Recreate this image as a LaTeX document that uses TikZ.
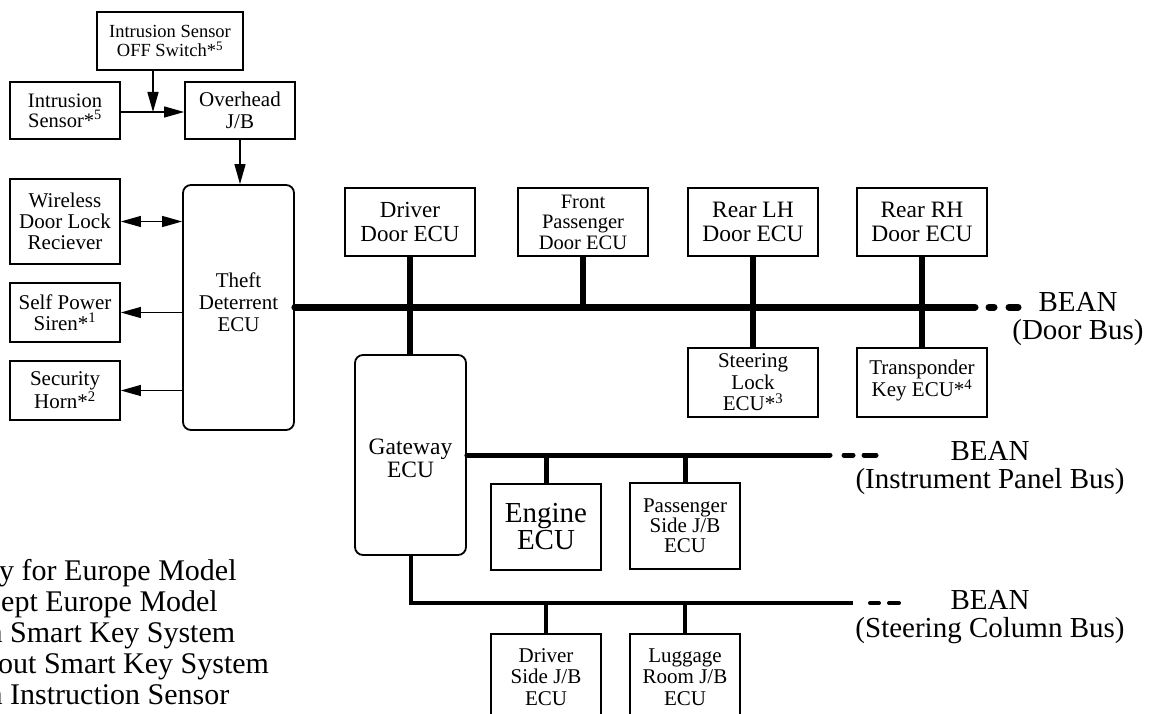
\documentclass[tikz,border=0pt]{standalone}
\usepackage{fontspec}
\setmainfont{Liberation Serif}
\usetikzlibrary{arrows.meta,calc}
\newcommand{\fsz}[2]{\fontsize{#1pt}{#2pt}\selectfont}
\begin{document}
\begin{tikzpicture}[x=1pt,y=-1pt,
  box/.style={draw, line width=1.8pt, inner sep=0pt, align=center},
  ecu/.style={box, rounded corners=8pt},
  arr/.style={line width=1.3pt, -{Triangle[length=20pt,width=11pt]}},
  darr/.style={line width=1.3pt, {Triangle[length=20pt,width=11pt]}-{Triangle[length=20pt,width=11pt]}},
  busA/.style={line width=7pt},
  dropA/.style={line width=6pt},
  busB/.style={line width=5pt},
  busC/.style={line width=4pt},
  dashseg/.style={line cap=round},
  buslabel/.style={align=center, font=\fsz{29}{28}},
  legend/.style={anchor=base west, font=\fsz{30}{31}, inner sep=0pt}
]
\useasboundingbox (0,0) rectangle (1149,714);
\begin{scope}
\clip (0,0) rectangle (1149,714);
% left cluster
\node[box, minimum width=146pt, minimum height=58pt, font=\fsz{18.5}{18.5}] (offsw) at (170,41) {Intrusion Sensor\\OFF Switch*\textsuperscript{5}};
\node[box, minimum width=110pt, minimum height=57pt, font=\fsz{20.5}{20}] (intr) at (65,110.5) {Intrusion\\Sensor*\textsuperscript{5}};
\node[box, minimum width=110pt, minimum height=57pt, font=\fsz{21}{22}] (ovh) at (240,110.5) {Overhead\\J/B};
\node[ecu, minimum width=111pt, minimum height=245pt,
  label={[align=center, font=\fsz{21}{22}, yshift=5.5pt]center:{Theft\\Deterrent\\ECU}}] (theft) at (238.5,307.5) {};
\node[box, minimum width=110pt, minimum height=85pt, font=\fsz{21}{21}] (wire) at (65,221.5) {Wireless\\Door Lock\\Reciever};
\node[box, minimum width=110pt, minimum height=59pt, font=\fsz{21}{21}] (siren) at (65,312.5) {Self Power\\Siren*\textsuperscript{1}};
\node[box, minimum width=110pt, minimum height=59pt, font=\fsz{21}{21}] (horn) at (65,390.5) {Security\\Horn*\textsuperscript{2}};
\coordinate (j) at (153,112);
\draw[line width=1.3pt] (intr.east |- j) -- (j);
\draw[arr] (j) -- (ovh.west |- j);
\draw[arr] (offsw.south -| j) -- (j);
\draw[arr] (ovh.south) -- (ovh.south |- theft.north);
\draw[darr] (wire.east) -- (wire.east -| theft.west);
\draw[arr] (theft.west |- siren.east) -- (siren.east);
\draw[arr] (theft.west |- horn.east) -- (horn.east);
% door ECUs
\node[box, minimum width=130pt, minimum height=68pt, font=\fsz{23}{24}] (drv) at (410,222) {Driver\\Door ECU};
\node[box, minimum width=130pt, minimum height=68pt, font=\fsz{20.5}{20.5}] (fp) at (583,222) {Front\\Passenger\\Door ECU};
\node[box, minimum width=130pt, minimum height=68pt, font=\fsz{23.5}{24}] (rlh) at (753,222) {Rear LH\\Door ECU};
\node[box, minimum width=130pt, minimum height=68pt, font=\fsz{23.5}{24}] (rrh) at (922,222) {Rear RH\\Door ECU};
\node[box, minimum width=130pt, minimum height=69pt, font=\fsz{21}{21.5}] (steer) at (753,382.5) {Steering\\Lock\\ECU*\textsuperscript{3}};
\node[box, minimum width=130pt, minimum height=69pt,
  label={[align=center, font=\fsz{21}{20}, yshift=2pt]center:{Transponder\\Key ECU*\textsuperscript{4}}}] (trans) at (922,382.5) {};
\node[ecu, minimum width=111pt, minimum height=200pt,
  label={[align=center, font=\fsz{23.5}{23}, yshift=-3pt]center:{Gateway\\ECU}}] (gw) at (410.5,455) {};
% door bus
\coordinate (doorend) at (975,307);
\draw[busA, line cap=round] (theft.east |- doorend) -- (doorend);
\draw[busA, dashseg] (989,307) -- (994,307);
\draw[busA, dashseg] (1009,307) -- (1018,307);
\node[buslabel] (doorlbl) at (1078,319) {BEAN\\(Door Bus)};
\draw[dropA] (drv.south) -- (drv.south |- gw.north);
\draw[dropA] (fp.south) -- (fp.south |- doorend);
\draw[dropA] (rlh.south) -- (steer.north);
\draw[dropA] (rrh.south) -- (trans.north);
% instrument panel bus
\node[box, minimum width=110pt, minimum height=86pt, font=\fsz{29}{27}] (eng) at (546,527) {Engine\\ECU};
\node[box, minimum width=110pt, minimum height=86pt, font=\fsz{21}{20}] (psj) at (685,526) {Passenger\\Side J/B\\ECU};
\coordinate (ipend) at (830,455);
\draw[busB, line cap=round] (gw.east) -- (ipend);
\draw[busB, dashseg] (844,455) -- (853,455);
\draw[busB, dashseg] (864,455) -- (876,455);
\node[buslabel] (iplbl) at (990,468) {BEAN\\(Instrument Panel Bus)};
\draw[busB] (eng.north) -- (eng.north |- ipend);
\draw[busB] (psj.north) -- (psj.north |- ipend);
% steering column bus
\node[box, minimum width=110pt, minimum height=86pt, font=\fsz{21}{21.5}] (dsj) at (546,677) {Driver\\Side J/B\\ECU};
\node[box, minimum width=110pt, minimum height=86pt, font=\fsz{21}{21.5}] (lug) at (685,677) {Luggage\\Room J/B\\ECU};
\coordinate (sccorner) at (410.5,603);
\coordinate (scend) at (853,603);
\draw[busC] (gw.south) -- (sccorner) -- (scend);
\draw[busC, dashseg] (870,603) -- (879,603);
\draw[busC, dashseg] (889,603) -- (899,603);
\node[buslabel] (sclbl) at (990,617) {BEAN\\(Steering Column Bus)};
\draw[busC] (dsj.north) -- (dsj.north |- scend);
\draw[busC] (lug.north) -- (lug.north |- scend);
% legend (cut at the left edge)
\node[legend] (l1) at (-1,580) {y for Europe Model};
\node[legend] (l2) at (1,611) {ept Europe Model};
\node[legend] (l3) at (-12.5,642) {h Smart Key System};
\node[legend] (l4) at (-2,673) {out Smart Key System};
\node[legend] (l5) at (-12.5,704) {h Instruction Sensor};
\end{scope}
\end{tikzpicture}
\end{document}
